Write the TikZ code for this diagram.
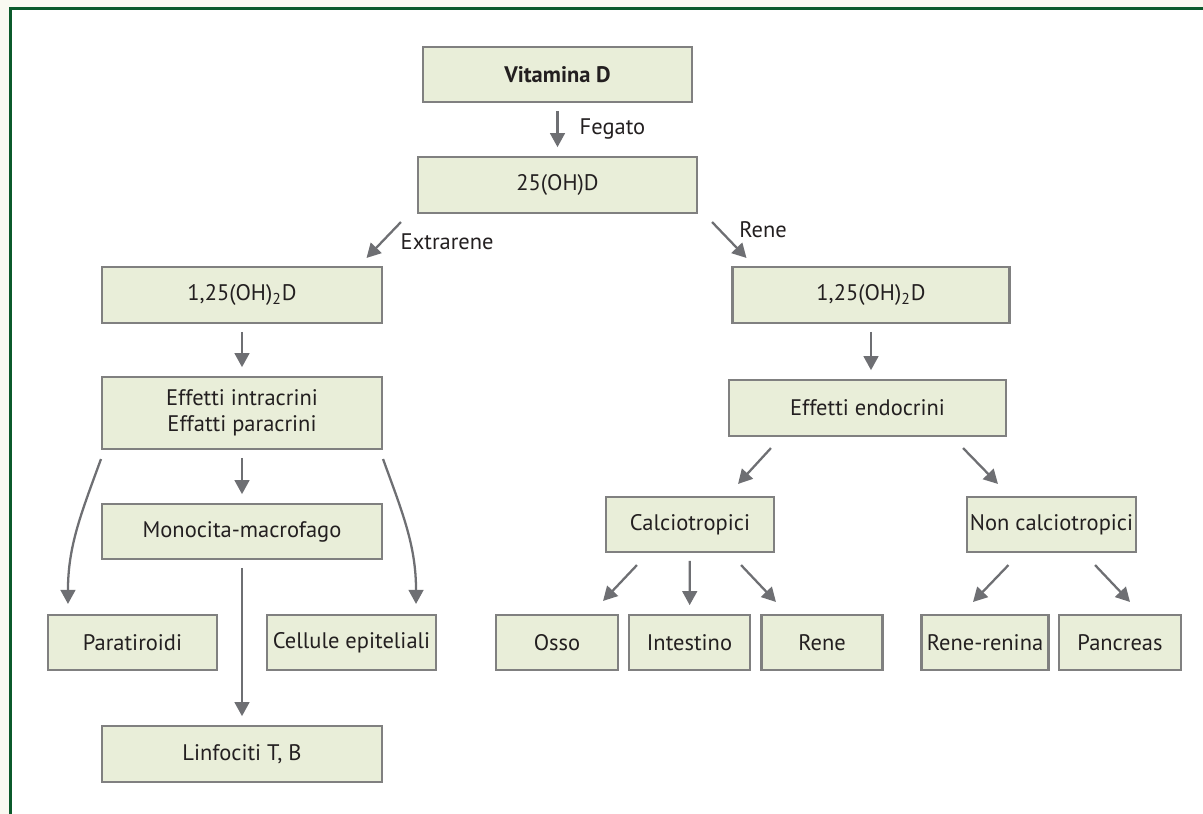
\documentclass[tikz,border=0pt]{standalone}
\usepackage{fontspec}
\setmainfont{PT Sans}
\usetikzlibrary{positioning,arrows.meta}
\definecolor{boxfill}{HTML}{E9EED9}
\definecolor{boxline}{HTML}{808080}
\definecolor{freccia}{HTML}{6E6F73}
\definecolor{testo}{HTML}{231F20}
\definecolor{cornice}{HTML}{0B5A2B}
\definecolor{sfondo}{HTML}{F9F9F1}

\begin{document}
\begin{tikzpicture}[
		x=0.02cm, y=-0.02cm,
		node distance={2.21cm},
		>={Triangle[length=8pt,width=8.4pt]},
		blocco/.style = {draw=boxline, fill=boxfill, line width=1.2pt, inner sep=0pt, minimum width=5.6cm, minimum height=1.1cm, text=testo, align=center, font=\fontsize{12.8}{15}\selectfont},
		small/.style = {blocco, minimum width=3.38cm},
		tiny/.style = {blocco, minimum width=2.44cm},
		arr/.style = {->, draw=freccia, line width=1.3pt},
		vert/.style = {arr, shorten <=4.5pt, shorten >=5pt},
		lbl/.style = {text=testo, inner sep=2pt, font=\fontsize{12.8}{15}\selectfont}
	]
	\useasboundingbox (0,0) rectangle (1203,814);
	\fill[sfondo] (0,0) rectangle (9,814);
	\fill[sfondo] (0,0) rectangle (1203,7);
	\draw[cornice, line width=1.7pt] (10.5,814) -- (10.5,8.5) -- (1203,8.5);

	% top
	\node[blocco, minimum width=5.38cm] (vitd) at (557.5,74.5) {\bfseries Vitamina D};
	\node[blocco, minimum width=5.58cm, minimum height=1.12cm] (oh25) [below of=vitd] {25(OH)D};
	\draw[vert] (vitd) -- node[lbl, right=10pt] {Fegato} (oh25);

	% extrarene
	\node[blocco, minimum height=1.12cm] (l125) at (242,295) {1,25(OH)\textsubscript{2}D};
	\node[blocco, minimum height=1.44cm] (eff) at (242,413) {Effetti intracrini\\Effatti paracrini};
	\node[blocco] (mono) at (242,531.5) {Monocita-macrofago};
	\node[small] (para) at (132.5,642.5) {Paratiroidi};
	\node[small] (cell) at (351.5,642.5) {Cellule epiteliali};
	\node[blocco, minimum height=1.12cm] (linf) at (242,754) {Linfociti T, B};
	\draw[arr] ([shift={(-16,8)}]oh25.south west) -- node[lbl, pos=0.55, right=8pt] {Extrarene} ([shift={(-16.5,-8)}]l125.north east);
	\draw[vert] (l125) -- (eff);
	\draw[vert] (eff) -- (mono);
	\draw[vert] (mono) -- (linf);
	\draw[arr] ([shift={(0,9)}]eff.south west) to[out=-110, in=90] ([shift={(21,-10)}]para.north west);
	\draw[arr] ([shift={(0,9)}]eff.south east) to[out=-70, in=90] ([shift={(-21,-10)}]cell.north east);

	% rene
	\node[blocco, minimum width=5.54cm, minimum height=1.12cm] (r125) at (871,295) {1,25(OH)\textsubscript{2}D};
	\node[blocco, minimum width=5.54cm, minimum height=1.12cm] (endo) at (867.5,408) {Effetti endocrini};
	\node[small, minimum width=3.36cm] (calc) at (690,524.5) {Calciotropici};
	\node[small] (ncalc) at (1051.5,524.5) {Non calciotropici};
	\node[tiny] (osso) at (557,642.5) {Osso};
	\node[tiny, minimum width=2.42cm] (inte) at (689.5,642.5) {Intestino};
	\node[tiny, minimum width=2.42cm] (reneb) at (822,642.5) {Rene};
	\node[tiny, minimum width=2.54cm] (renin) at (985,642.5) {Rene-renina};
	\node[tiny] (panc) at (1120,642.5) {Pancreas};
	\draw[arr] ([shift={(14,8)}]oh25.south east) -- node[lbl, pos=0.2, right=9pt] {Rene} ([shift={(15,-8)}]r125.north west);
	\draw[vert] (r125.south) -- (r125.south |- endo.north);
	\draw[arr] ([shift={(43,11)}]endo.south west) -- ([shift={(-37,-12)}]calc.north east);
	\draw[arr] ([shift={(-44,11)}]endo.south east) -- ([shift={(32,-12)}]ncalc.north west);
	\draw[arr] ([shift={(32,12)}]calc.south west) -- ([shift={(-16,-13)}]osso.north east);
	\draw[vert] (calc) -- (inte);
	\draw[arr] ([shift={(-34,12)}]calc.south east) -- ([shift={(15.5,-12)}]reneb.north west);
	\draw[arr] ([shift={(42.5,12)}]ncalc.south west) -- ([shift={(-12,-12)}]renin.north);
	\draw[arr] ([shift={(-42,12)}]ncalc.south east) -- ([shift={(10,-12)}]panc.north);
\end{tikzpicture}
\end{document}
